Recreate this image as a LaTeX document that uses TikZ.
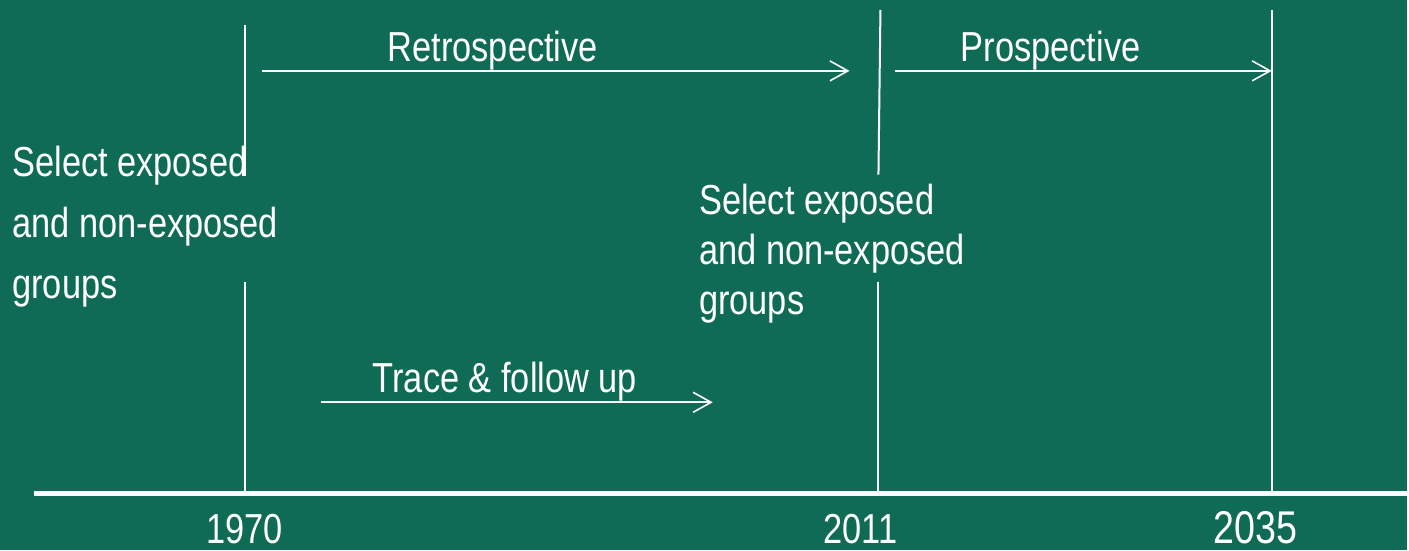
\documentclass[tikz,border=0pt]{standalone}
\usepackage{fontspec}
\setmainfont[FakeStretch=0.82]{Liberation Sans}
\usetikzlibrary{arrows.meta}
\definecolor{boardgreen}{HTML}{106B56}

\begin{document}
\begin{tikzpicture}[x=0.5pt,y=-0.5pt,font=\fontsize{21}{30.5}\selectfont,text=white,
 label/.style={anchor=base west,inner sep=0pt},
 group/.style={anchor=north west,align=left,inner sep=0pt},
 year/.style={anchor=base,inner sep=0pt},
 tick/.style={draw=white,line width=1pt},
 span/.style={draw=white,line width=0.8pt,-{Straight Barb[length=9pt,width=10pt,line width=0.8pt]}}]
\fill[boardgreen] (0,0) rectangle (1409,551);
% time axis
\coordinate (axisL) at (34,494.5); \coordinate (axisR) at (1409,494.5);
\draw[white,line width=2.5pt] (axisL)--(axisR);
% year marks
\coordinate (a1) at (245,25); \coordinate (a2) at (245,176); \coordinate (a3) at (245,282); \coordinate (a4) at (245,492);
\coordinate (b1) at (882,10); \coordinate (b2) at (880,175); \coordinate (b3) at (880,282); \coordinate (b4) at (880,492);
\coordinate (c1) at (1274,10); \coordinate (c4) at (1274,492);
\draw[tick] (a1)--(a2); \draw[tick] (a3)--(a4);
\draw[tick] (b1)--(b2); \draw[tick] (b3)--(b4);
\draw[tick] (c1)--(c4);
\node[year] (y1970) at (245,544) {1970};
\node[year] (y2011) at (862,544) {2011};
\node[year,font=\fontsize{23}{28}\selectfont] (y2035) at (1258,544) {2035};
% study directions
\coordinate (r1) at (262,71); \coordinate (r2) at (851,71);
\coordinate (p1) at (897,71); \coordinate (p2) at (1274,71);
\coordinate (f1) at (322,403); \coordinate (f2) at (714,403);
\draw[span] (r1)--(r2); \draw[span] (p1)--(p2); \draw[span] (f1)--(f2);
\node[label] (retro) at (388,62) {Retrospective};
\node[label] (pros) at (962,62) {Prospective};
\node[label] (trace) at (373,393) {Trace \& follow up};
% groups
\node[group] (sel1) at (12,146) {Select exposed\\and non-exposed\\groups};
\node[group,font=\fontsize{21}{25}\selectfont] (sel2) at (700,184) {Select exposed\\and non-exposed\\groups};
\end{tikzpicture}
\end{document}
